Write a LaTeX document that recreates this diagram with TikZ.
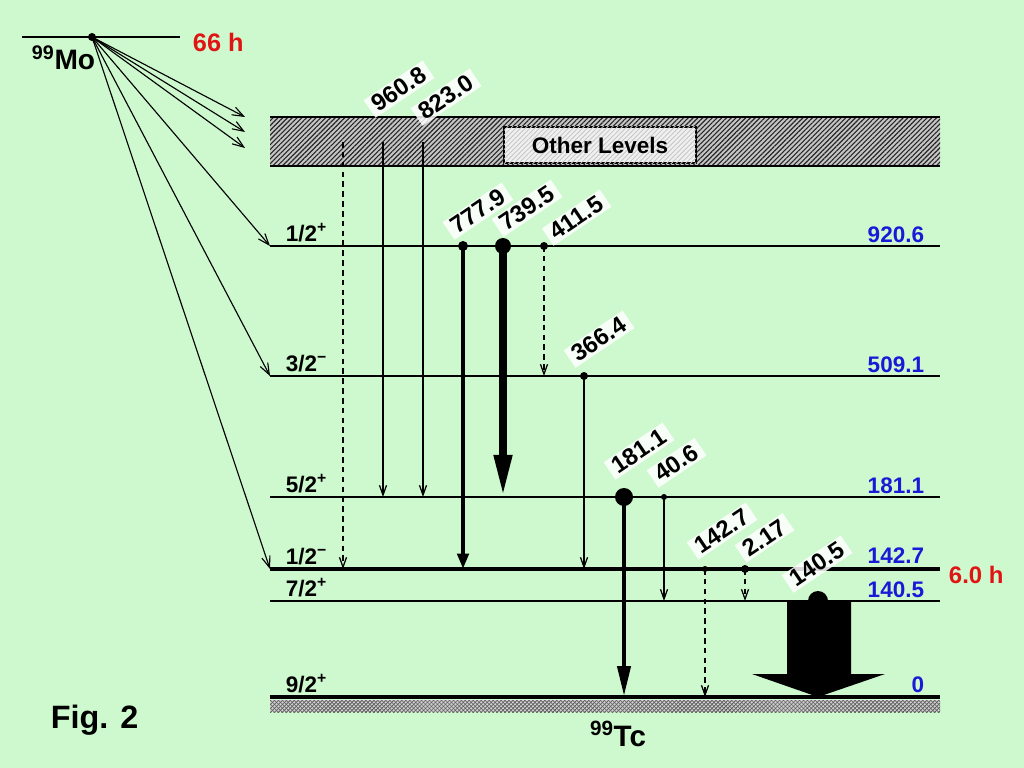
\documentclass[tikz,border=0pt]{standalone}
\usepackage{fontspec}
\setmainfont{Liberation Sans}
\usetikzlibrary{arrows.meta}
\usetikzlibrary{patterns.meta}
\usetikzlibrary{positioning}

\definecolor{bggreen}{RGB}{206,249,206}
\definecolor{enblue}{RGB}{25,25,215}
\definecolor{hlred}{RGB}{225,20,20}
\newcommand{\fsz}[1]{\fontsize{#1}{#1}\selectfont\bfseries}

\begin{document}
\begin{tikzpicture}[x=0.025cm,y=-0.025cm,
    gamlabel/.style={anchor=base west,rotate=34,fill=white,fill opacity=.85,
                     text opacity=1,inner xsep=4pt,inner ysep=1.5pt,font=\fsz{17}},
    spin/.style={anchor=base west,font=\fsz{16}},
    energy/.style={anchor=base east,text=enblue,font=\fsz{16}},
    thin/.style={line width=.9pt,-{Straight Barb[length=7pt,width=5pt]}},
    dashgam/.style={thin,dash pattern=on 4pt off 3pt}]

\fill[bggreen] (0,0) rectangle (1024,768);

% parent
\coordinate (mo) at (92,37);
\draw[line width=2pt] (22,37) -- (180,37);
\fill (mo) circle[radius=4];
\node[anchor=base west,font=\fsz{20}] (mo-name) at (27,70) {\textsuperscript{99}Mo};
\node[anchor=base west,text=hlred,font=\fsz{18}] (mo-life) at (188,52) {66 h};

% other levels band
\fill[gray!45] (270,117) rectangle (940,166);
\fill[pattern={Lines[angle=45,distance=2.4pt,line width=.8pt]},pattern color=black!85]
    (270,117) rectangle (940,166);
\draw[line width=1.5pt] (270,117) -- (940,117) (270,166) -- (940,166);
\node[draw,line width=1pt,fill=gray!12,minimum width=4.8cm,minimum height=.9cm,
      postaction={pattern={Lines[angle=45,distance=2.4pt,line width=.6pt]},pattern color=gray!45},
      font=\fsz{16}] (other) at (600,145) {Other Levels};

% levels
\foreach \nm/\y/\jp/\en/\w/\dy in {l920/246/{1/2\textsuperscript{+}}/920.6/1.5pt/4,
                                   l509/376/{3/2\textsuperscript{−}}/509.1/1.5pt/4,
                                   l181/497/{5/2\textsuperscript{+}}/181.1/1.5pt/4,
                                   l142/569/{1/2\textsuperscript{−}}/142.7/3.5pt/6,
                                   l140/601/{7/2\textsuperscript{+}}/140.5/1.5pt/4,
                                   l0/697/{9/2\textsuperscript{+}}/0/3.5pt/5}
{
    \coordinate (\nm) at (270,\y);
    \coordinate (\nm-r) at (940,\y);
    \draw[line width=\w] (\nm) -- (\nm-r);
    \node[spin] (\nm-jp) at (281,\y-5) {\jp};
    \node[energy] (\nm-en) at (929,\y-\dy) {\en};
}
\node[anchor=base west,text=hlred,font=\fsz{17}] (iso-life) at (944,583) {6.0 h};

% ground hatch
\fill[gray!35] (270,700) rectangle (940,712);
\fill[pattern={Lines[angle=45,distance=2pt,line width=.5pt]},pattern color=black!70]
    (270,700) rectangle (940,712);
\fill[pattern={Lines[angle=-45,distance=2pt,line width=.5pt]},pattern color=black!60]
    (270,700) rectangle (940,712);
\node[anchor=base,font=\fsz{21}] (tc) at (618,746) {\textsuperscript{99}Tc};
\node[anchor=base west,font=\fsz{23}] (fig) at (46,728) {Fig. 2};

% beta feeding
\coordinate (b1) at (245,117);
\coordinate (b2) at (245,132);
\coordinate (b3) at (245,148);
\foreach \v in {b1,b2,b3,l920,l509,l142}
    \draw[line width=.8pt,-{Straight Barb[length=8pt,width=6pt]}] (mo) -- (\v);

% gamma transitions
\coordinate (other-low) at (0,142);
\draw[dashgam] (343,0 |- other-low) -- (343,0 |- l142);
\draw[thin] (383,0 |- other-low) -- (383,0 |- l181);
\draw[thin] (423,0 |- other-low) -- (423,0 |- l181);
\draw[line width=3pt,-{Triangle[length=11pt,width=8pt]}] (463,0 |- l920) -- (463,0 |- l142);
\draw[line width=5.5pt,-{Triangle[length=30pt,width=12pt]}] (503,0 |- l920) -- (503,0 |- l181);
\draw[dashgam] (544,0 |- l920) -- (544,0 |- l509);
\draw[thin] (584,0 |- l509) -- (584,0 |- l142);
\draw[line width=3.5pt,-{Triangle[length=22pt,width=9pt]}] (624,0 |- l181) -- (624,0 |- l0);
\draw[thin] (664,0 |- l181) -- (664,0 |- l140);
\draw[dashgam] (705,0 |- l142) -- (705,0 |- l0);
\draw[dashgam] (745,0 |- l142) -- (745,0 |- l140);
\fill (787,601) -- (851,601) -- (851,674) -- (885,674) -- (818,697)
      -- (752,674) -- (787,674) -- cycle;

% start dots
\foreach \x/\u/\r in {463/l920/5, 503/l920/8, 544/l920/4, 584/l509/4, 624/l181/9,
                      664/l181/3, 705/l142/3, 745/l142/4, 818/l140/10}
    \fill (\x,0 |- \u) circle[radius=\r];

% energies
\node[gamlabel] (g9608) at (374,116) {960.8};
\node[gamlabel] (g8230) at (421,124) {823.0};
\node[gamlabel] (g7779) at (453,238) {777.9};
\node[gamlabel] (g7395) at (502,235) {739.5};
\node[gamlabel] (g4115) at (552,244) {411.5};
\node[gamlabel] (g3664) at (574,366) {366.4};
\node[gamlabel] (g1811) at (614,478) {181.1};
\node[gamlabel] (g406) at (657,486) {40.6};
\node[gamlabel] (g1427) at (697,558) {142.7};
\node[gamlabel] (g217) at (745,561) {2.17};
\node[gamlabel] (g1405) at (792,591) {140.5};
\end{tikzpicture}
\end{document}
